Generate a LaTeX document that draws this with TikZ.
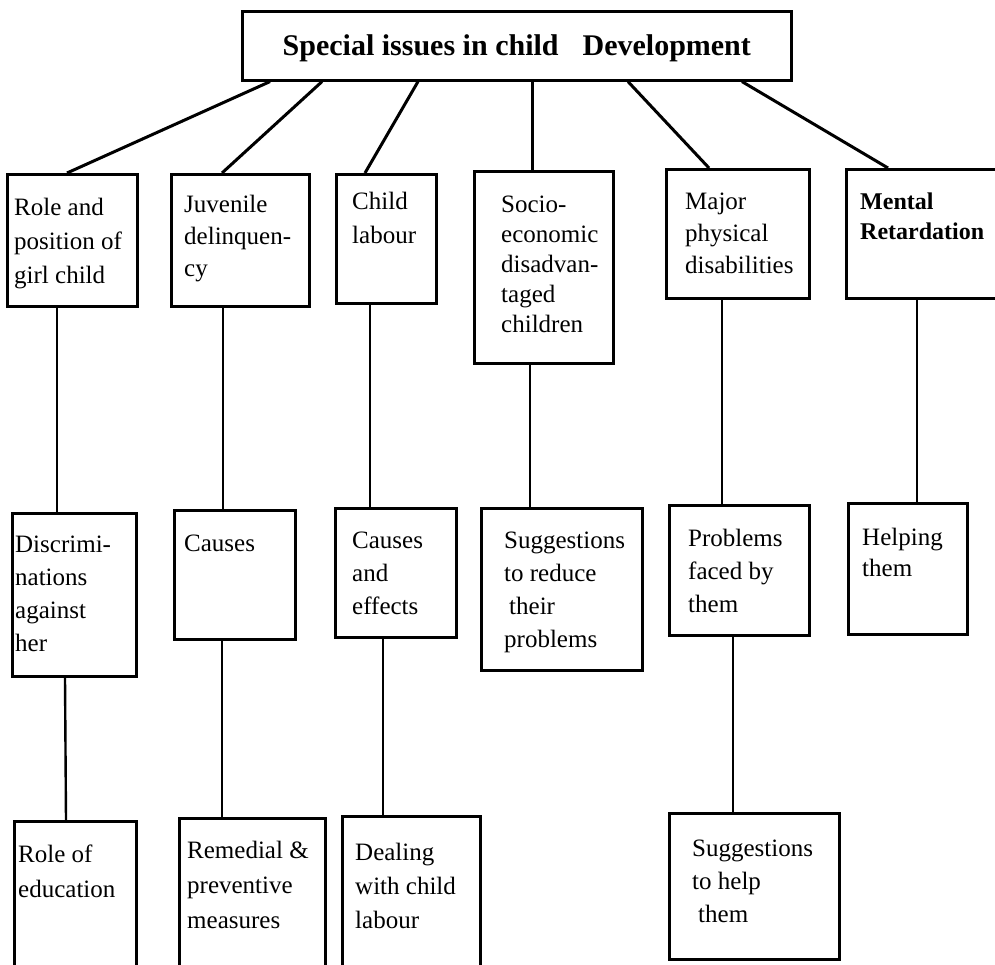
\documentclass[tikz,border=0pt]{standalone}
\usepackage{fontspec}
\setmainfont{Liberation Serif}
\newcommand\blines[1]{\begin{tabular}[t]{@{}l@{}}#1\end{tabular}}
\begin{document}
\begin{tikzpicture}[x=1pt,y=-1pt,
  box/.style={draw, line width=2.6pt, inner sep=0pt, anchor=north west},
  txt/.style={inner sep=0pt, anchor=base west, font=\fontsize{25}{#1}\selectfont},
  link/.style={line width=2.4pt},
  diag/.style={line width=3pt}]
\fill[white] (0,0) rectangle (995,965);
\useasboundingbox (0,0) rectangle (995,965);
\clip (0,0) rectangle (995,965);

% top
\node[box, minimum width=549pt, minimum height=69pt] (top) at (241,10) {};
\node[inner sep=0pt, anchor=base, font=\fontsize{30}{35}\selectfont\bfseries] (title)
  at ([yshift=-10pt]top.center) {Special issues in child\hspace{24pt}Development};

% level 1 boxes
\node[box, minimum width=130pt, minimum height=132pt] (b1) at (6,173) {};
\node[box, minimum width=138pt, minimum height=132pt] (b2) at (170,173) {};
\node[box, minimum width=100pt, minimum height=129pt] (b3) at (335,173) {};
\node[box, minimum width=139pt, minimum height=192pt] (b4) at (473,170) {};
\node[box, minimum width=143pt, minimum height=129pt] (b5) at (665,168) {};
\node[box, minimum width=165pt, minimum height=129pt] (b6) at (845,168) {};

% level 2 boxes
\node[box, minimum width=124pt, minimum height=163pt] (c1) at (11,512) {};
\node[box, minimum width=121pt, minimum height=129pt] (c2) at (173,509) {};
\node[box, minimum width=121pt, minimum height=129pt] (c3) at (334,507) {};
\node[box, minimum width=161pt, minimum height=162pt] (c4) at (480,507) {};
\node[box, minimum width=140pt, minimum height=130pt] (c5) at (668,504) {};
\node[box, minimum width=119pt, minimum height=131pt] (c6) at (847,502) {};

% level 3 boxes
\node[box, minimum width=122pt, minimum height=165pt] (d1) at (13,820) {};
\node[box, minimum width=146pt, minimum height=165pt] (d2) at (178,817) {};
\node[box, minimum width=138pt, minimum height=165pt] (d3) at (341,815) {};
\node[box, minimum width=170pt, minimum height=146pt] (d4) at (668,812) {};

% texts level 1
\node[txt=34pt] (t1) at (14,216) {\blines{Role and\\position of\\girl child}};
\node[txt=32pt] (t2) at (184,213) {\blines{Juvenile\\delinquen-\\cy}};
\node[txt=34pt] (t3) at (352,210) {\blines{Child\\labour}};
\node[txt=30pt] (t4) at (501,213) {\blines{Socio-\\economic\\disadvan-\\taged\\children}};
\node[txt=32pt] (t5) at (685,210) {\blines{Major\\physical\\disabilities}};
\node[txt=30pt] (t6) at (860,210) {\bfseries\fontsize{24}{30}\selectfont\blines{Mental\\Retardation}};

% texts level 2
\node[txt=33pt] (u1) at (15,552) {\blines{Discrimi-\\nations\\against\\her}};
\node[txt=33pt] (u2) at (184,551) {\blines{Causes}};
\node[txt=33pt] (u3) at (352,548) {\blines{Causes\\and\\effects}};
\node[txt=33pt] (u4) at (504,548) {\blines{Suggestions\\to reduce\\\hspace*{5pt}their\\problems}};
\node[txt=33pt] (u5) at (688,546) {\blines{Problems\\faced by\\them}};
\node[txt=31pt] (u6) at (862,545) {\blines{Helping\\them}};

% texts level 3
\node[txt=35pt] (v1) at (18,862) {\blines{Role of\\education}};
\node[txt=35pt] (v2) at (187,858) {\blines{Remedial \&\\preventive\\measures}};
\node[txt=34pt] (v3) at (355,860) {\blines{Dealing\\with child\\labour}};
\node[txt=33pt] (v4) at (692,856) {\blines{Suggestions\\to help\\\hspace*{6pt}them}};

% connectors from the top box
\draw[diag] ([xshift=29pt]top.south west) -- ([xshift=61pt]b1.north west);
\draw[diag] ([xshift=81pt]top.south west) -- ([xshift=52pt]b2.north west);
\draw[diag] ([xshift=177pt]top.south west) -- ([xshift=30pt]b3.north west);
\draw[diag] ([xshift=291pt]top.south west) -- ([xshift=59pt]b4.north west);
\draw[diag] ([xshift=387pt]top.south west) -- ([xshift=44pt]b5.north west);
\draw[diag] ([xshift=501pt]top.south west) -- ([xshift=43pt]b6.north west);

% level 1 to level 2
\draw[link] ([xshift=51pt]b1.south west) -- ([xshift=46pt]c1.north west);
\draw[link] ([xshift=53pt]b2.south west) -- ([xshift=50pt]c2.north west);
\draw[link] ([xshift=35pt]b3.south west) -- ([xshift=36pt]c3.north west);
\draw[link] ([xshift=57pt]b4.south west) -- ([xshift=50pt]c4.north west);
\draw[link] ([xshift=57pt]b5.south west) -- ([xshift=54pt]c5.north west);
\draw[link] ([xshift=72pt]b6.south west) -- ([xshift=70pt]c6.north west);

% level 2 to level 3
\draw[link] ([xshift=54pt]c1.south west) -- ([xshift=53pt]d1.north west);
\draw[link] ([xshift=49pt]c2.south west) -- ([xshift=44pt]d2.north west);
\draw[link] ([xshift=49pt]c3.south west) -- ([xshift=42pt]d3.north west);
\draw[link] ([xshift=65pt]c5.south west) -- ([xshift=65pt]d4.north west);
\end{tikzpicture}
\end{document}
